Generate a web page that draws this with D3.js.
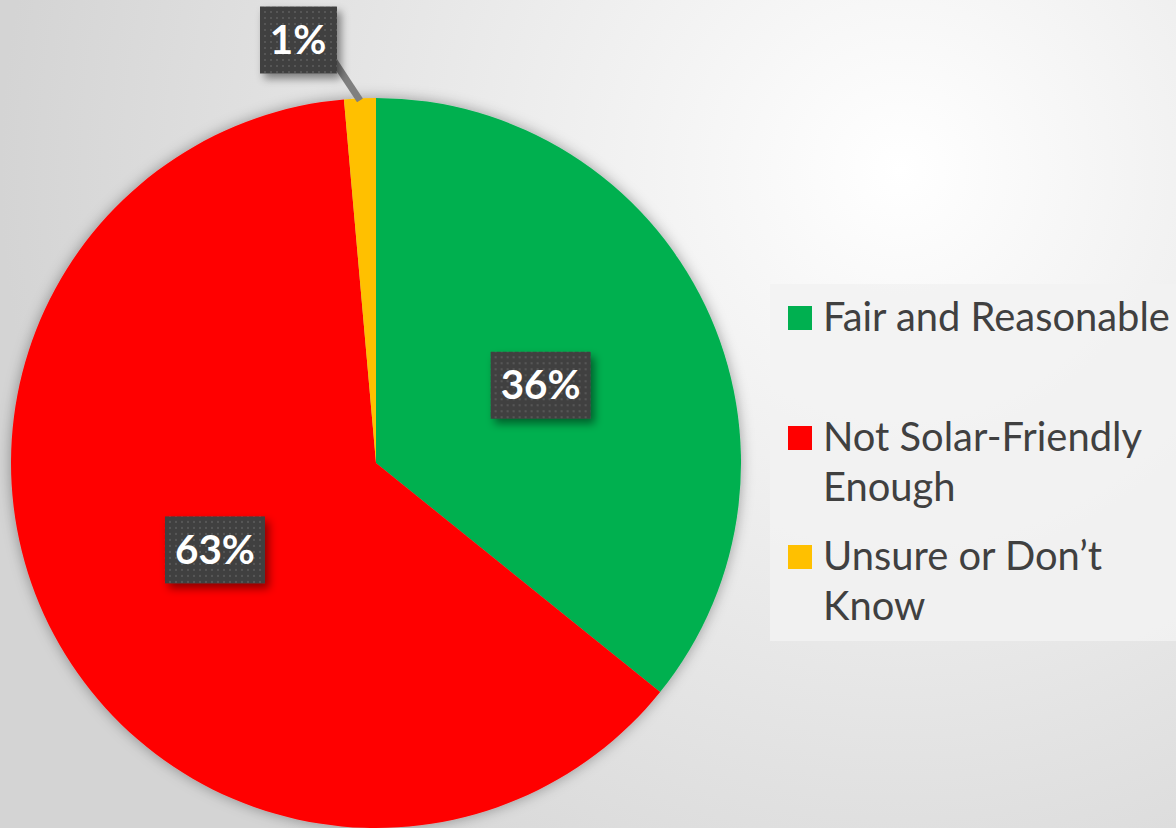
<!DOCTYPE html>
<html>
<head>
<meta charset="utf-8">
<script src="https://cdn.jsdelivr.net/npm/d3@7"></script>
<style>
  html, body { margin: 0; padding: 0; background: #e6e6e6; }
  svg { display: block; }
</style>
</head>
<body>
<div id="chart"></div>
<script>
// chart data
var categories = ["Fair and Reasonable", "Not Solar-Friendly Enough", "Unsure or Don\u2019t Know"];
var values = [35.8, 62.8, 1.4];
var labels = ["36%", "63%", "1%"];
var colors = ["#00b050", "#ff0000", "#ffc000"];
// legend lines (wrapped as in the original)
var legendLines = [["Fair and Reasonable"], ["Not Solar-Friendly", "Enough"], ["Unsure or Don\u2019t", "Know"]];

var width = 1176, height = 828;
var cx = 376, cy = 463, radius = 365;

var svg = d3.select("#chart").append("svg")
    .attr("width", width)
    .attr("height", height);

var defs = svg.append("defs");

// background radial gradient
var bg = defs.append("radialGradient")
    .attr("id", "bgGrad")
    .attr("gradientUnits", "userSpaceOnUse")
    .attr("cx", 900).attr("cy", 170).attr("r", 900);
bg.append("stop").attr("offset", "0%").attr("stop-color", "#ffffff");
bg.append("stop").attr("offset", "100%").attr("stop-color", "#d4d4d4");

// soft shadow for the pie
var pieShadow = defs.append("filter").attr("id", "pieShadow")
    .attr("x", "-10%").attr("y", "-10%").attr("width", "120%").attr("height", "120%");
pieShadow.append("feDropShadow")
    .attr("dx", 0).attr("dy", 0).attr("stdDeviation", 7)
    .attr("flood-color", "#000").attr("flood-opacity", 0.35);

// shadow for the label boxes
var boxShadow = defs.append("filter").attr("id", "boxShadow")
    .attr("x", "-20%").attr("y", "-20%").attr("width", "150%").attr("height", "160%");
boxShadow.append("feDropShadow")
    .attr("dx", 4).attr("dy", 5).attr("stdDeviation", 4)
    .attr("flood-color", "#000").attr("flood-opacity", 0.45);

// dotted pattern of the label boxes
var pat = defs.append("pattern").attr("id", "dots")
    .attr("patternUnits", "userSpaceOnUse")
    .attr("width", 6).attr("height", 6);
pat.append("rect").attr("width", 6).attr("height", 6).attr("fill", "#404040");
pat.append("rect").attr("x", 2).attr("y", 2).attr("width", 2).attr("height", 2).attr("fill", "#575757");

svg.append("rect")
    .attr("width", width).attr("height", height)
    .attr("fill", "url(#bgGrad)");

// pie
var pie = d3.pie().sort(null).value(function(d) { return d; });
var arcs = pie(values);
var arc = d3.arc().innerRadius(0).outerRadius(radius);

var g = svg.append("g")
    .attr("transform", "translate(" + cx + "," + cy + ")");

g.append("g")
    .attr("filter", "url(#pieShadow)")
    .selectAll("path")
    .data(arcs)
    .enter()
    .append("path")
    .attr("d", arc)
    .attr("fill", function(d, i) { return colors[i]; });

// data labels
var labelFont = "Lato, 'Open Sans', sans-serif";
var boxW = 100, boxH = 67;

function labelPos(d, i) {
    var c = arc.centroid(d);
    if (i === 2) {
        // small slice: label pulled outside with a leader line
        return [298 - cx, 39 - cy];
    }
    return c;
}

// leader line for the small slice
var small = arcs[2];
var midA = (small.startAngle + small.endAngle) / 2;
var edge = [Math.sin(midA) * radius, -Math.cos(midA) * radius];
var lp = labelPos(small, 2);
g.append("line")
    .attr("x1", lp[0] + 36).attr("y1", lp[1] + 22)
    .attr("x2", edge[0]).attr("y2", edge[1] + 2)
    .attr("stroke", "#7f7f7f")
    .attr("stroke-width", 7);

var lab = g.selectAll(".dlabel")
    .data(arcs)
    .enter()
    .append("g")
    .attr("class", "dlabel")
    .attr("transform", function(d, i) {
        var p = labelPos(d, i);
        return "translate(" + p[0] + "," + p[1] + ")";
    });

lab.append("rect")
    .attr("x", function(d, i) { return i === 2 ? -38 : -boxW / 2; })
    .attr("y", -boxH / 2 + 1)
    .attr("width", function(d, i) { return i === 2 ? 77 : boxW; })
    .attr("height", boxH)
    .attr("fill", "url(#dots)")
    .attr("filter", "url(#boxShadow)");

var labText = lab.append("text")
    .attr("text-anchor", "middle")
    .attr("dy", "0.37em")
    .attr("fill", "#ffffff")
    .style("font-family", labelFont)
    .style("font-weight", "bold")
    .style("font-size", "40px")
    .text(function(d, i) { return labels[i]; });

// fit label font to the original width of "36%" (about 80px)
var w36 = labText.nodes()[0].getComputedTextLength();
labText.style("font-size", (40 * 80 / w36) + "px");

// legend
var legend = svg.append("g").attr("class", "legend");
legend.append("rect")
    .attr("x", 770).attr("y", 284)
    .attr("width", 406).attr("height", 357)
    .attr("fill", "#f2f2f2")
    .attr("opacity", 0.85);

var rowY = [331, 451, 570];
var lineH = 50;

var rows = legend.selectAll(".row")
    .data(categories)
    .enter()
    .append("g")
    .attr("class", "row")
    .attr("transform", function(d, i) { return "translate(0," + rowY[i] + ")"; });

rows.append("rect")
    .attr("x", 788).attr("y", -25)
    .attr("width", 24).attr("height", 24)
    .attr("fill", function(d, i) { return colors[i]; });

var legText = rows.append("text")
    .attr("x", 823)
    .attr("fill", "#404040")
    .style("font-family", labelFont)
    .style("font-size", "36px");

legText.selectAll("tspan")
    .data(function(d, i) { return legendLines[i]; })
    .enter()
    .append("tspan")
    .attr("x", 823)
    .attr("y", function(d, j) { return j * lineH; })
    .text(function(d) { return d; });

// fit legend font to the original width of "Fair and Reasonable" (about 347px)
var wLeg = legText.nodes()[0].getComputedTextLength();
legText.style("font-size", (36 * 347 / wLeg) + "px");
</script>
</body>
</html>
